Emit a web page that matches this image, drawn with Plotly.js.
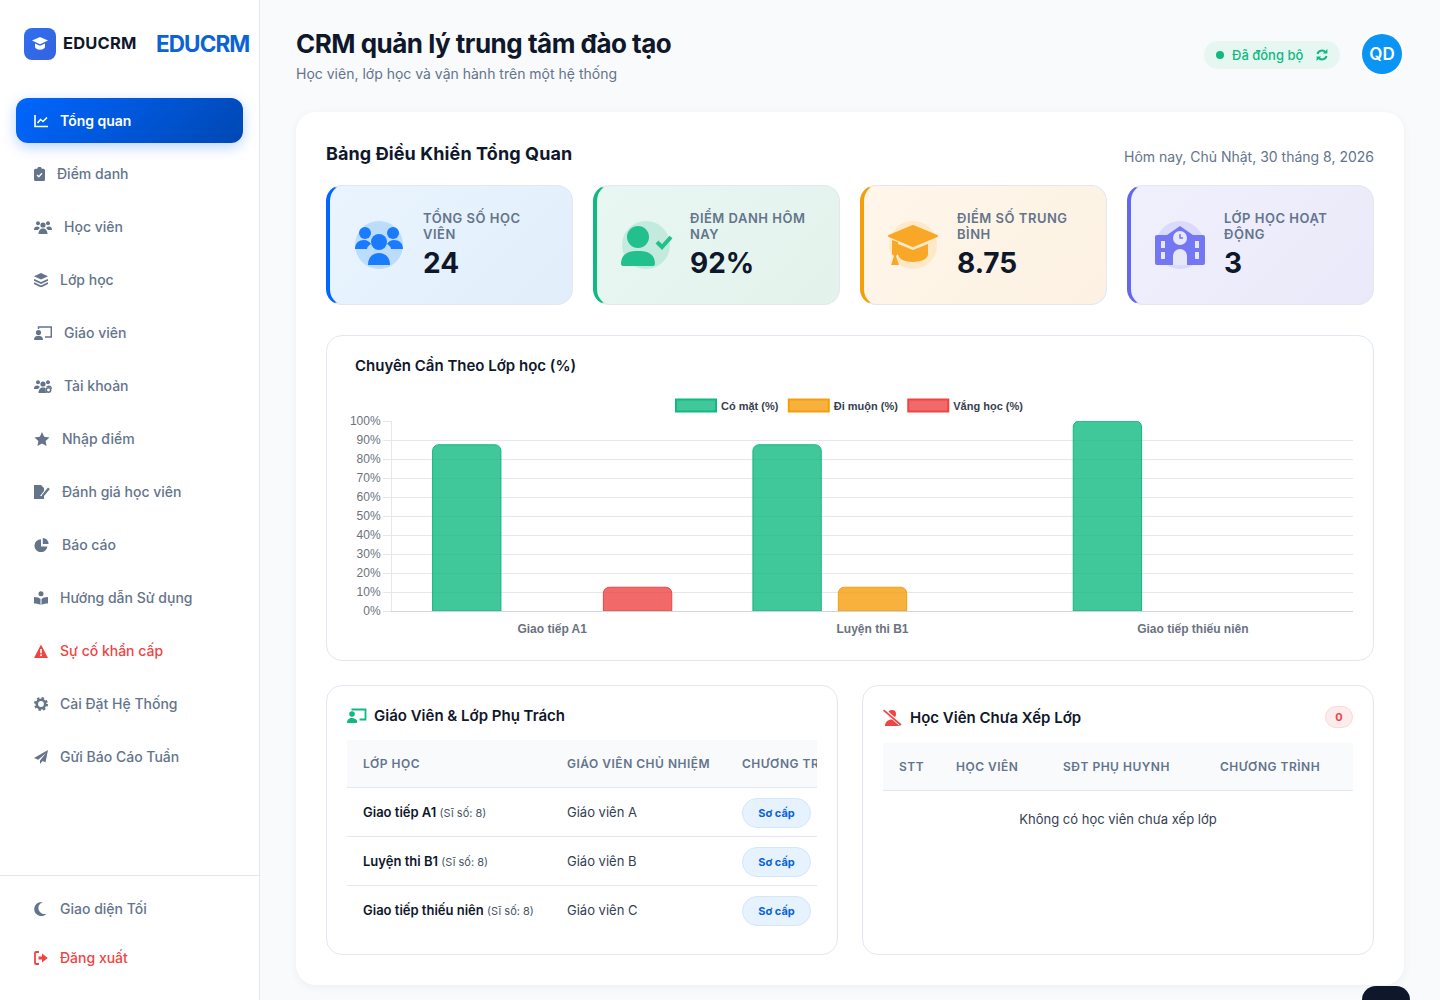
<!DOCTYPE html>
<html lang="vi"><head><meta charset="utf-8"><title>EDUCRM</title>
<script src="https://cdn.plot.ly/plotly-3.0.1.min.js"></script>
<style>
*{box-sizing:border-box}html,body{margin:0;padding:0;width:1440px;height:1000px;overflow:hidden;background:#f8fafc;font-family:Inter,sans-serif;color:#0f172a}
.abs{position:absolute;white-space:nowrap}
#side{position:absolute;left:0;top:0;width:260px;height:1000px;background:#fff;border-right:1px solid #e5e7eb}
#nav{position:absolute;left:16px;top:98px;width:227px}
.ni{display:flex;align-items:center;height:45px;margin-bottom:8px;padding-left:18px;font-size:14px;font-weight:500;color:#64748b;border-radius:12px}
.ni svg{margin-right:12px;flex:none}
.ni.active{background:linear-gradient(135deg,#0066ff,#0047b3);color:#fff;font-weight:600;box-shadow:0 4px 14px rgba(0,102,255,.28)}
.ni.red{color:#ef4444}
#main{position:absolute;left:296px;top:112px;width:1108px;height:873px;background:#fff;border-radius:20px;box-shadow:0 2px 10px rgba(15,23,42,.05)}
.stat{position:absolute;top:185px;width:247px;height:120px;border:1px solid #e2e8f0;border-left-width:4px;border-radius:16px}
.stat .lab{position:absolute;left:93px;top:24px;width:122px;font-size:13px;line-height:16px;font-weight:600;letter-spacing:.5px;color:#64748b;text-transform:uppercase}
.stat .val{position:absolute;left:93px;top:59px;font-size:28px;line-height:36px;font-weight:700;color:#0f172a}
.stat .ic{position:absolute;left:25px;top:35px;width:48px;height:48px;border-radius:50%}
.stat svg{position:absolute;left:-3px;top:-1px}
.card{position:absolute;background:#fff;border:1px solid #e2e8f0;border-radius:16px}
.tb{position:absolute;overflow:hidden;font-size:13px}
.th{display:flex;align-items:center;background:#f8fafc;border-bottom:1px solid #e2e8f0;font-size:12px;font-weight:600;letter-spacing:.5px;color:#64748b;white-space:nowrap}
.tr{display:flex;align-items:center;height:49px;border-bottom:1px solid #e5e7eb;white-space:nowrap;color:#334155}
.tr:last-child{border-bottom-color:transparent}
.pill{display:inline-block;position:relative;top:1px;width:69px;height:30px;line-height:28px;text-align:center;background:#e6f3ff;border:1px solid #d3e6fa;border-radius:15px;color:#0b63d6;font-size:11px;font-weight:700}
</style></head><body>
<div id="side">
 <div class="abs" style="left:24px;top:28px;width:32px;height:32px;border-radius:8px;background:linear-gradient(135deg,#2f6ff0,#3563e0)"><svg width="32" height="32" viewBox="0 0 32 32"><path d="M16 9l8 3.6-8 3.6-8-3.6z" fill="#fff"/><path d="M11 15.5l5 2.2 5-2.2v3.2c0 1.6-2.2 3-5 3s-5-1.400-5-3z" fill="#fff"/></svg></div>
 <div class="abs" style="left:63px;top:33px;font-size:16.5px;line-height:20px;font-weight:700;color:#0f172a;letter-spacing:.2px">EDUCRM</div>
 <div class="abs" style="left:156px;top:30px;font-size:22.5px;line-height:28px;font-weight:700;color:#0b63d6;letter-spacing:-.9px">EDUCRM</div>
 <div id="nav"></div>
 <div class="abs" style="left:0;top:875px;width:259px;height:1px;background:#e5e7eb"></div>
 <div id="nav2" style="position:absolute;left:16px;top:886px;width:227px"></div>
</div>
<div class="abs" style="left:296px;top:26px;font-size:26px;line-height:36px;font-weight:700;letter-spacing:-.5px;color:#0f172a">CRM quản lý trung tâm đào tạo</div>
<div class="abs" style="left:296px;top:65px;font-size:14px;line-height:18px;color:#64748b">Học viên, lớp học và vận hành trên một hệ thống</div>
<div class="abs" style="left:1204px;top:41px;width:136px;height:28px;border-radius:14px;background:#e6f7f1">
 <div class="abs" style="left:12px;top:10px;width:8px;height:8px;border-radius:50%;background:#10b981"></div>
 <div class="abs" style="left:28px;top:5px;font-size:13px;line-height:18px;font-weight:500;color:#10b981">Đã đồng bộ</div>
 <svg class="abs" style="left:112px;top:8px" width="12" height="12" viewBox="0 0 12 12" fill="none" stroke="#10b981" stroke-width="2"><path d="M1.500 5a4.500 4.500 0 0 1 8-1.600M10.500 7a4.500 4.500 0 0 1-8 1.600"/><path d="M11.400 0v4.600H6.800M.6 12V7.400h4.600" fill="#10b981" stroke="none"/></svg>
</div>
<div class="abs" style="left:1362px;top:34px;width:40px;height:40px;border-radius:50%;background:#0a95f5;color:#fff;font-size:17px;font-weight:600;line-height:40px;text-align:center;box-shadow:0 0 0 2px #fff">QD</div>
<div id="main"></div>
<div class="abs" style="left:326px;top:142px;font-size:18px;line-height:24px;font-weight:700;color:#0f172a;letter-spacing:.1px">Bảng Điều Khiển Tổng Quan</div>
<div class="abs" style="right:66px;top:148px;font-size:14px;line-height:18px;color:#64748b">Hôm nay, Chủ Nhật, 30 tháng 8, 2026</div>
<div id="stats"></div>
<div class="card" style="left:326px;top:335px;width:1048px;height:326px"></div>
<div class="abs" style="left:355px;top:355px;font-size:15px;line-height:21px;font-weight:600;color:#0f172a">Chuyên Cần Theo Lớp học (%)</div>
<div id="chart" class="abs" style="left:346px;top:382px;width:1010px;height:260px"></div>
<div class="card" style="left:326px;top:685px;width:512px;height:270px"></div>
<svg class="abs" style="left:347px;top:708px" width="20" height="15" viewBox="0 0 20 15"><circle cx="5" cy="6" r="2.800" fill="#10b981"/><path d="M0 15c0-3.500 2-5 5-5 2 0 4 1 5 2.500V15z" fill="#10b981"/><path d="M4.500 1.500h14v10h-6" fill="none" stroke="#10b981" stroke-width="1.800"/></svg>
<div class="abs" style="left:374px;top:706px;font-size:15px;line-height:20px;font-weight:600;color:#0f172a">Giáo Viên &amp; Lớp Phụ Trách</div>
<div class="tb" id="t1" style="left:347px;top:740px;width:470px;height:194px"></div>
<div class="card" style="left:862px;top:685px;width:512px;height:270px"></div>
<svg class="abs" style="left:883px;top:709px" width="19" height="17" viewBox="0 0 19 17"><circle cx="9" cy="5" r="4" fill="#ef4444"/><path d="M2 17c0-4 3-6.500 7-6.500s8 2.500 8 6.500z" fill="#ef4444"/><path d="M.8 .8L17.500 15.500" stroke="#fff" stroke-width="3.500"/><path d="M.6 1.200L18 16" stroke="#ef4444" stroke-width="1.700"/></svg>
<div class="abs" style="left:910px;top:707px;font-size:15px;line-height:21px;font-weight:600;color:#0f172a">Học Viên Chưa Xếp Lớp</div>
<div class="abs" style="left:1325px;top:706px;width:28px;height:22px;border:1px solid #f8dada;border-radius:11px;background:#fdecec;color:#ef4444;font-size:11px;font-weight:700;line-height:20px;text-align:center">0</div>
<div class="tb" id="t2" style="left:883px;top:743px;width:470px;height:100px"></div>
<div class="abs" style="left:1362px;top:986px;width:48px;height:48px;border-radius:14px;background:#0f172a"></div>
<script>
// ---- chart data ----
const classNames = ["Giao tiếp A1", "Luyện thi B1", "Giao tiếp thiếu niên"];
const presentPct = [87.5, 87.5, 100];
const latePct = [0, 12.5, 0];
const absentPct = [12.5, 0, 0];
const seriesNames = ["Có mặt (%)", "Đi muộn (%)", "Vắng học (%)"];
const yTickValues = [0, 10, 20, 30, 40, 50, 60, 70, 80, 90, 100];
// ---- page text ----
const navLabels = ["Tổng quan","Điểm danh","Học viên","Lớp học","Giáo viên","Tài khoản","Nhập điểm","Đánh giá học viên","Báo cáo","Hướng dẫn Sử dụng","Sự cố khẩn cấp","Cài Đặt Hệ Thống","Gửi Báo Cáo Tuần"];
const footLabels = ["Giao diện Tối","Đăng xuất"];
const statLabels = ["Tổng số học viên","Điểm danh hôm nay","Điểm số trung bình","Lớp học hoạt động"];
const statValues = ["24","92%","8.75","3"];
const teacherNames = ["Giáo viên A","Giáo viên B","Giáo viên C"];
const classSizes = [8,8,8];
const classPrograms = ["Sơ cấp","Sơ cấp","Sơ cấp"];
const teacherHeaders = ["LỚP HỌC","GIÁO VIÊN CHỦ NHIỆM","CHƯƠNG TRÌNH"];
const waitingHeaders = ["STT","HỌC VIÊN","SĐT PHỤ HUYNH","CHƯƠNG TRÌNH"];
const waitingEmpty = "Không có học viên chưa xếp lớp";

const C="currentColor";
const svg=(w,h,b)=>`<svg width="${w}" height="${h}" viewBox="0 0 ${w} ${h}" fill="${C}">${b}</svg>`;
const ppl=(c)=>`<circle cx="4" cy="3.200" r="2" fill="${c}"/><circle cx="14" cy="3.200" r="2" fill="${c}"/><circle cx="9" cy="5" r="2.600" fill="${c}"/><path d="M0 9.500c0-2 1.500-3 3-3s2.500 1 2.800 1.500L4 10H0zM18 9.500c0-2-1.500-3-3-3s-2.500 1-2.800 1.500L14 10h4zM4.500 14c0-3.500 2-5.500 4.500-5.500s4.500 2 4.500 5.500z" fill="${c}"/>`;
const navIcons=[
 svg(14,14,'<path d="M1 1v11.500h13" fill="none" stroke="currentColor" stroke-width="1.600"/><path d="M3.500 9l3-3.500 2.500 2 4-4" fill="none" stroke="currentColor" stroke-width="1.600"/>'),
 svg(11,14,'<path d="M1.500 1.800H3.300a2.200 2 0 0 1 4.400 0h1.800a1.500 1.500 0 0 1 1.500 1.500V12.500a1.500 1.500 0 0 1-1.500 1.500h-8A1.500 1.500 0 0 1 0 12.500V3.300a1.500 1.500 0 0 1 1.500-1.500z"/><path d="M3 8l1.800 1.800 3.200-3.500" fill="none" stroke="#fff" stroke-width="1.300"/>'),
 svg(18,14,ppl(C)),
 svg(14,14,'<path d="M7 0l7 3.300L7 6.600 0 3.300z"/><path d="M0 6.800l7 3.200 7-3.200M0 10l7 3.500 7-3.500" fill="none" stroke="currentColor" stroke-width="1.800"/>'),
 svg(18,14,'<circle cx="4.500" cy="6.500" r="2.600"/><path d="M0 14c0-3 1.800-4.300 4.500-4.300s4.500 1.300 4.500 4.300z"/><path d="M4.500 3V1h12.800v10H11" fill="none" stroke="currentColor" stroke-width="1.500"/>'),
 svg(18,14,ppl(C)+'<circle cx="14.500" cy="11" r="3" fill="#fff"/><circle cx="14.500" cy="11" r="2.200" fill="none" stroke="currentColor" stroke-width="1.500"/>'),
 svg(16,14,'<path d="M8 0l2.200 4.700 5.300.7-3.900 3.600 1 5L8 11.500 3.400 14l1-5L.5 5.400l5.300-.7z"/>'),
 svg(16,14,'<path d="M0 0h7l3 3v3L6 11h4v3H0z"/><path d="M8 10l6-7.500 1.800 1.500-6 7.300-2.300.8z"/>'),
 svg(16,14,'<path d="M7 1.200A6.500 6.500 0 1 0 13.400 8.500H7z"/><path d="M8.800 0a6 6 0 0 1 5.800 6H8.800z"/>'),
 svg(14,14,'<circle cx="7" cy="2.800" r="2.500"/><path d="M0 6c3 0 5.500.8 6.500 2V14C5 13 3 12.500 0 12.500zM14 6c-3 0-5.500.8-6.500 2V14c1.500-1 3.500-1.500 6.500-1.500z"/>'),
 svg(14,14,'<path d="M7 0.500l7 13.500H0z"/><path d="M7 5v4.200" stroke="#fff" stroke-width="1.600"/><circle cx="7" cy="11.300" r="1" fill="#fff"/>'),
 svg(14,14,'<circle cx="7" cy="7" r="4.200" fill="none" stroke="currentColor" stroke-width="2.600"/><circle cx="7" cy="7" r="6" fill="none" stroke="currentColor" stroke-width="2" stroke-dasharray="2.400 2.300"/>'),
 svg(14,14,'<path d="M14 0L0 8l4.200 1.800L12 3 6 10.500V14l2.500-3 3 1.300z"/>'),
];
const footIcons=[
 svg(14,14,'<path d="M8.500 .2A7 7 0 1 0 12.500 11.700 5.800 5.800 0 0 1 8.500 .2z"/>'),
 svg(14,14,'<path d="M5 1H2a1 1 0 0 0-1 1v10a1 1 0 0 0 1 1h3" fill="none" stroke="currentColor" stroke-width="1.800"/><path d="M4.500 5.500H8V2.500L13.800 7 8 11.500V8.500H4.500z"/>'),
];
document.getElementById('nav').innerHTML=navLabels.map((t,i)=>`<div class="ni${i==0?' active':''}${i==10?' red':''}">${navIcons[i]}<span>${t}</span></div>`).join('');
document.getElementById('nav2').innerHTML=footLabels.map((t,i)=>`<div class="ni${i==1?' red':''}" style="margin-bottom:4px">${footIcons[i]}<span>${t}</span></div>`).join('');

const statStyle=[
 {c:'#0066ff',bg:'linear-gradient(135deg,#e9f4fe,#e1eefa)',h:'rgba(0,120,255,.18)',left:326,
  s:`<svg width="54" height="50" viewBox="0 0 54 50"><circle cx="13" cy="13" r="6" fill="#1a7bff"/><circle cx="41" cy="13" r="6" fill="#1a7bff"/><path d="M3 29c0-6 4-9 9-9 3 0 6 2 7 4-2 1-4 3-4 5zM51 29c0-6-4-9-9-9-3 0-6 2-7 4 2 1 4 3 4 5z" fill="#1a7bff"/><circle cx="27" cy="22" r="8" fill="#1a7bff"/><path d="M16 45c0-8 5-12 11-12s11 4 11 12z" fill="#1a7bff"/></svg>`},
 {c:'#10b981',bg:'linear-gradient(135deg,#e8f7f2,#e4f2ec)',h:'rgba(16,185,129,.17)',left:593,
  s:`<svg width="54" height="50" viewBox="0 0 54 50"><circle cx="19" cy="17" r="11" fill="#22c08c"/><path d="M2 44c0-10 7-13 17-13s17 3 17 13c0 1-1 2-2 2H4c-1 0-2-1-2-2z" fill="#22c08c"/><path d="M38 22l5 5 9-10" fill="none" stroke="#22c08c" stroke-width="4"/></svg>`},
 {c:'#f59e0b',bg:'linear-gradient(135deg,#fff6e9,#fcf1e3)',h:'rgba(245,158,11,.13)',left:860,
  s:`<svg width="54" height="50" viewBox="0 0 54 50"><path d="M27 6L51 16 27 26 3 16z" fill="#f8a826" stroke="#f8a826" stroke-width="2" stroke-linejoin="round"/><path d="M12 24l15 6 15-6v10c0 5-7 8-15 8s-15-3-15-8z" fill="#f8a826"/><path d="M6 20v14l2 2-3 9h8l-3-9 2-2V22z" fill="#f8a826"/></svg>`},
 {c:'#6366f1',bg:'linear-gradient(135deg,#f0f0fd,#e9e9f9)',h:'rgba(99,102,241,.14)',left:1127,
  s:`<svg width="54" height="50" viewBox="0 0 54 50"><path d="M2 17a2 2 0 0 1 2-2h10L27 6l13 9h10a2 2 0 0 1 2 2v26a2 2 0 0 1-2 2H4a2 2 0 0 1-2-2z" fill="#7477f3"/><circle cx="27" cy="18" r="7" fill="#e7e7fa"/><path d="M27 14v4h3" stroke="#7477f3" stroke-width="1.500" fill="none"/><path d="M20 45V36a7 7 0 0 1 14 0v9z" fill="#e7e7fa"/><path d="M8 21h4v7H8zM8 32h4v7H8zM42 21h4v7h-4zM42 32h4v7h-4z" fill="#e7e7fa"/></svg>`},
];
document.getElementById('stats').innerHTML=statLabels.map((t,i)=>{const s=statStyle[i];return `<div class="stat" style="left:${s.left}px;background:${s.bg};border-left-color:${s.c}"><div class="ic" style="background:${s.h}">${s.s}</div><div class="lab">${t}</div><div class="val">${statValues[i]}</div></div>`}).join('');

const w1=[220,175,75];
document.getElementById('t1').innerHTML=`<div class="th" style="height:48px">${teacherHeaders.map((h,i)=>`<div style="flex:none;width:${i==2?160:w1[i]}px;padding-left:${i==0?16:0}px">${h}</div>`).join('')}</div>`+
 classNames.map((n,i)=>`<div class="tr"><div style="width:220px;padding-left:16px;color:#0f172a;font-weight:600">${n} <span style="font-size:11px;font-weight:400;color:#475569">(Sĩ số: ${classSizes[i]})</span></div><div style="width:175px">${teacherNames[i]}</div><div><span class="pill">${classPrograms[i]}</span></div></div>`).join('');
const w2=[73,107,157,133];
document.getElementById('t2').innerHTML=`<div class="th" style="height:48px">${waitingHeaders.map((h,i)=>`<div style="width:${w2[i]}px;padding-left:${i==0?16:0}px">${h}</div>`).join('')}</div><div style="text-align:center;height:52px;line-height:56px;color:#334155">${waitingEmpty}</div>`;

const colors=['rgba(16,185,129,0.8)','rgba(245,158,11,0.8)','rgba(239,68,68,0.8)'];
const lines=['#10b981','#f59e0b','#ef4444'];
const traces=[presentPct,latePct,absentPct].map((y,i)=>({type:'bar',name:seriesNames[i],x:classNames,y:y,
 marker:{color:colors[i],line:{color:lines[i],width:y.map(v=>v>0?1:0)},cornerradius:6},hoverinfo:'x+y+name'}));
const layout={width:1010,height:260,margin:{l:45.5,r:3,t:39,b:31},paper_bgcolor:'rgba(0,0,0,0)',plot_bgcolor:'rgba(0,0,0,0)',
 barmode:'group',bargap:0.2,bargroupgap:0.2,
 font:{family:'"Liberation Sans",Arial,sans-serif',size:12,color:'#6b7280'},
 showlegend:true,
 legend:{orientation:'h',xref:'container',yref:'container',xanchor:'center',x:0.499,yanchor:'top',y:0.9654,itemwidth:40,itemsizing:'constant',font:{size:11,color:'#374151',weight:'bold'},bgcolor:'rgba(0,0,0,0)',tracegroupgap:0},
 xaxis:{type:'category',tickfont:{size:12,color:'#6b7280',weight:'bold'},ticks:'',ticklabelstandoff:7,showgrid:false,showline:true,linecolor:'#d1d5db',linewidth:1,zeroline:false,fixedrange:true},
 yaxis:{range:[0,100],tickvals:yTickValues,ticktext:yTickValues.map(v=>v+'%'),ticks:'outside',ticklen:8,tickcolor:'#e5e7eb',tickwidth:1,showline:true,linecolor:'#e5e7eb',linewidth:1,gridcolor:'#e5e7eb',gridwidth:1,zeroline:false,tickfont:{size:12,color:'#6b7280'},fixedrange:true}
};
function wide(){document.querySelectorAll('#chart .legend .legendpoints path').forEach(p=>{p.setAttribute('d','M20,6H-20V-6H20Z');});}
Plotly.newPlot('chart',traces,layout,{displayModeBar:false,responsive:false}).then(g=>{wide();g.on('plotly_afterplot',wide);});
</script>
</body></html>
